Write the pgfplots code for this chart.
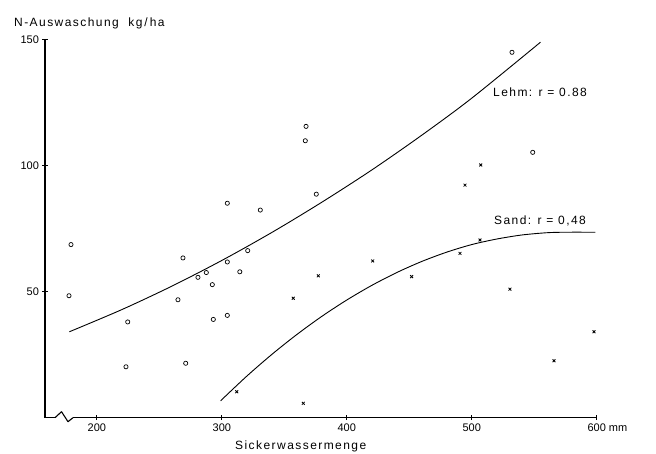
\documentclass[border=0pt]{standalone}
\usepackage{fontspec}
\setmainfont{Liberation Sans}[LetterSpace=12]
\newfontfamily\tickfont{Liberation Sans}
\usepackage{pgfplots}
\pgfplotsset{compat=1.18}

\begin{document}
\begin{tikzpicture}
\path[use as bounding box] (0,0) rectangle (656pt,453pt);
\begin{axis}[
    at={(45pt,35.3pt)},anchor=south west,
    scale only axis,width=551.7pt,height=378pt,
    xmin=158.5,xmax=600,ymin=0,ymax=150,
    axis x line=bottom,axis y line=left,
    axis line style={-,line width=1.1pt},
    xtick={200,300,400,500,600},
    xticklabels={200,300,400,500,{600\rlap{\hspace{3pt}mm}}},
    ytick={50,100,150},
    tick align=center,major tick length=5pt,
    every tick/.style={black,line width=0.9pt},
    /pgf/number format/assume math mode=true,
    tick label style={font=\tickfont\fontsize{11}{13}\selectfont},
    clip=false]
  % Lehm (circles)
  \addplot[only marks,mark=o,mark size=2.1pt,mark options={line width=0.7pt}]
    coordinates {(179.3,68.7) (177.7,48.4) (224.7,38.0) (223.3,20.2)
                 (268.9,63.4) (264.9,46.8) (271.1,21.6) (280.9,55.7)
                 (287.6,57.6) (292.4,52.8) (293.2,39.0) (304.4,40.6)
                 (304.4,85.1) (304.4,61.8) (314.4,57.9) (320.7,66.3)
                 (330.8,82.4) (367.4,115.6) (366.8,109.9) (375.6,88.7)
                 (532.2,145.0) (548.8,105.3)};
  % Sand (crosses)
  \addplot[only marks,mark=x,mark size=2pt,mark options={line width=0.8pt}]
    coordinates {(311.9,10.3) (365.2,5.7) (357.2,47.4) (377.2,56.3)
                 (420.7,62.2) (451.9,56.0) (490.6,65.2) (506.6,70.5)
                 (494.6,92.3) (507.2,100.3) (530.6,51.0) (565.8,22.6)
                 (597.8,34.1)};
  % fitted curves
  \addplot[smooth,line width=0.9pt] coordinates {
    (178,34.1) (220,42.9) (260,52.2) (300,62.4) (340,73.5)
    (380,85.5) (420,98.3) (460,112.1) (500,126.8) (555,149.0)};
  \addplot[smooth,line width=0.9pt] coordinates {
    (299,6.7) (320,16.5) (340,25.1) (360,33.0) (380,40.2) (400,46.7)
    (420,52.5) (440,57.6) (460,62.0) (480,65.7) (500,68.7) (520,70.9)
    (540,72.5) (560,73.4) (575,73.6) (599,73.6)};
\end{axis}
% axis break mark
\draw[white,line width=3pt] (56pt,35.3pt) -- (73pt,35.3pt);
\draw[line width=1.1pt,line join=round] (55pt,35.3pt) -- (61.5pt,41.3pt) -- (68pt,31.3pt) -- (73pt,35.3pt);
\node[anchor=base west,inner sep=0,font=\fontsize{12}{14}\selectfont] at (14pt,426.5pt) {N-Auswaschung~~kg\,/\,ha};
\node[anchor=base west,inner sep=0,font=\fontsize{12}{14}\selectfont] at (235pt,4pt) {Sickerwassermenge};
\node[anchor=base west,inner sep=0,font=\fontsize{12}{14}\selectfont] at (493pt,356.3pt) {Lehm: r = 0.88};
\node[anchor=base west,inner sep=0,font=\fontsize{12}{14}\selectfont] at (494pt,228pt) {Sand: r = 0,48};
\end{tikzpicture}
\end{document}
